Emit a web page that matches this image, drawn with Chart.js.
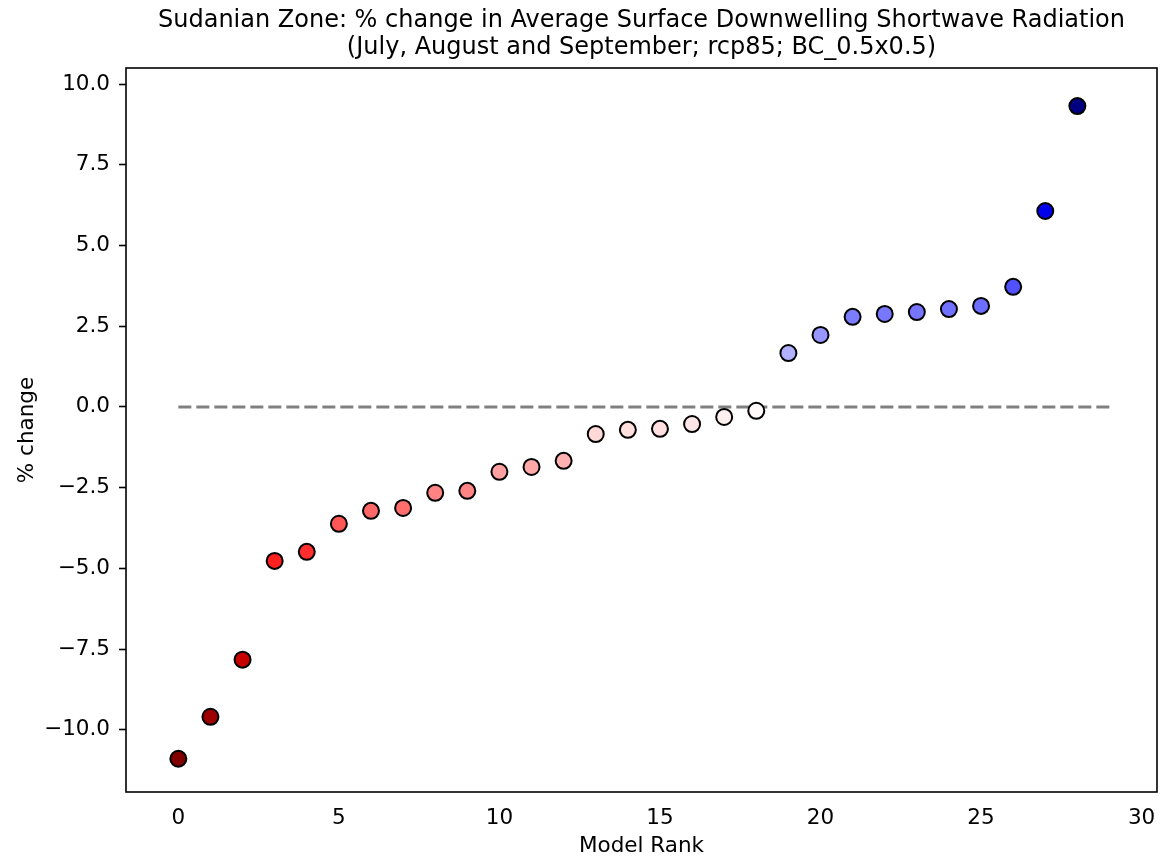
<!DOCTYPE html>
<html>
<head>
<meta charset="utf-8">
<title>Sudanian Zone - % change in SW radiation</title>
<script src="https://cdn.jsdelivr.net/npm/chart.js@4.4.0/dist/chart.umd.min.js"></script>
<style>
  html, body { margin: 0; padding: 0; background: #fff; }
  #wrap { width: 1160px; height: 859px; }
</style>
</head>
<body>
<div id="wrap"><canvas id="rankChart" width="1160" height="859"></canvas></div>
<script>
// --- Data ---
const titleLines = [
    'Sudanian Zone: % change in Average Surface Downwelling Shortwave Radiation',
    '(July, August and September; rcp85; BC_0.5x0.5)'
];
const modelRank = [0, 1, 2, 3, 4, 5, 6, 7, 8, 9, 10, 11, 12, 13, 14, 15, 16, 17, 18, 19, 20, 21, 22, 23, 24, 25, 26, 27, 28];
const pctChange = [-10.9, -9.6, -7.83, -4.77, -4.49, -3.62, -3.22, -3.13, -2.66, -2.6, -2.01, -1.86, -1.67,
    -0.84, -0.71, -0.68, -0.53, -0.31, -0.12, 1.67, 2.23, 2.79, 2.88, 2.94, 3.03, 3.13, 3.72, 6.07, 9.32];
const zeroLineX = [0, 29];
const zeroLineY = [0, 0];
const yTickValues = [-10, -7.5, -5, -2.5, 0, 2.5, 5, 7.5, 10];
const xTickValues = [0, 5, 10, 15, 20, 25, 30];

// --- Colour map (matplotlib seismic_r, symmetric around zero) ---
const seismicStops = [
    [0.0, [0, 0, 0.3]],
    [0.25, [0, 0, 1]],
    [0.5, [1, 1, 1]],
    [0.75, [1, 0, 0]],
    [1.0, [0.5, 0, 0]]
];
function seismic(t) {
    t = Math.min(1, Math.max(0, t));
    for (let i = 1; i < seismicStops.length; i++) {
        const [t1, c1] = seismicStops[i];
        const [t0, c0] = seismicStops[i - 1];
        if (t <= t1) {
            const f = (t - t0) / (t1 - t0);
            const c = c0.map((v, k) => Math.round(255 * (v + (c1[k] - v) * f)));
            return `rgb(${c[0]},${c[1]},${c[2]})`;
        }
    }
    return 'rgb(128,0,0)';
}
const vmax = Math.max(...pctChange.map(Math.abs));
const pointColors = pctChange.map(v => seismic(1 - (v + vmax) / (2 * vmax)));

const fmt = v => (v < 0 ? '\u2212' : '') + Math.abs(v).toFixed(1);

// Frame round the plot area
const framePlugin = {
    id: 'frame',
    afterDraw(chart) {
        const { ctx, chartArea: a } = chart;
        ctx.save();
        ctx.strokeStyle = '#000';
        ctx.lineWidth = 1.6;
        ctx.strokeRect(a.left, a.top, a.right - a.left, a.bottom - a.top);
        ctx.restore();
    }
};

Chart.defaults.font.family = '"DejaVu Sans", sans-serif';
Chart.defaults.color = '#000';

const ctx = document.getElementById('rankChart').getContext('2d');
new Chart(ctx, {
    type: 'scatter',
    data: {
        datasets: [
            {
                label: 'models',
                data: modelRank.map((r, i) => ({ x: r, y: pctChange[i] })),
                backgroundColor: pointColors,
                borderColor: '#000',
                borderWidth: 2,
                pointRadius: 8,
                pointHoverRadius: 8,
                order: 1
            },
            {
                type: 'line',
                label: 'zero',
                data: zeroLineX.map((x, i) => ({ x: x, y: zeroLineY[i] })),
                borderColor: '#808080',
                borderWidth: 3,
                borderDash: [13, 5],
                pointRadius: 0,
                fill: false,
                order: 2
            }
        ]
    },
    options: {
        responsive: false,
        devicePixelRatio: 1,
        animation: false,
        events: [],
        layout: { autoPadding: false, padding: { left: 0, right: 3, top: 0, bottom: 0 } },
        plugins: {
            legend: { display: false },
            tooltip: { enabled: false },
            title: {
                display: true,
                fullSize: false,
                text: titleLines,
                color: '#000',
                font: { size: 24, weight: 'normal', lineHeight: 1.125 },
                padding: { top: 7, bottom: 7 }
            }
        },
        scales: {
            x: {
                type: 'linear',
                min: -1.63,
                max: 30.48,
                afterFit(scale) {
                    scale.height = 67;
                    scale.paddingLeft = 0;
                    scale.paddingRight = 0;
                },
                afterBuildTicks(scale) { scale.ticks = xTickValues.map(v => ({ value: v })); },
                border: { display: false },
                grid: { display: false },
                ticks: {
                    padding: 6,
                    font: { size: 21.5 },
                    color: '#000',
                    callback: v => String(v)
                },
                title: {
                    display: true,
                    text: 'Model Rank',
                    font: { size: 21.5 },
                    color: '#000',
                    padding: { top: 0, bottom: 0 }
                }
            },
            y: {
                type: 'linear',
                min: -11.93,
                max: 10.5,
                afterFit(scale) {
                    scale.width = 126;
                    scale.paddingTop = 0;
                    scale.paddingBottom = 0;
                },
                afterBuildTicks(scale) { scale.ticks = yTickValues.map(v => ({ value: v })); },
                border: { display: false },
                grid: {
                    display: true,
                    drawOnChartArea: false,
                    drawTicks: true,
                    tickLength: 7,
                    tickWidth: 1.6,
                    tickColor: '#000'
                },
                ticks: {
                    padding: 9,
                    font: { size: 21.5 },
                    color: '#000',
                    callback: v => fmt(v)
                },
                title: {
                    display: true,
                    text: '% change',
                    font: { size: 21.5 },
                    color: '#000',
                    padding: { top: 15, bottom: 0 }
                }
            }
        }
    },
    plugins: [framePlugin]
});
</script>
</body>
</html>
